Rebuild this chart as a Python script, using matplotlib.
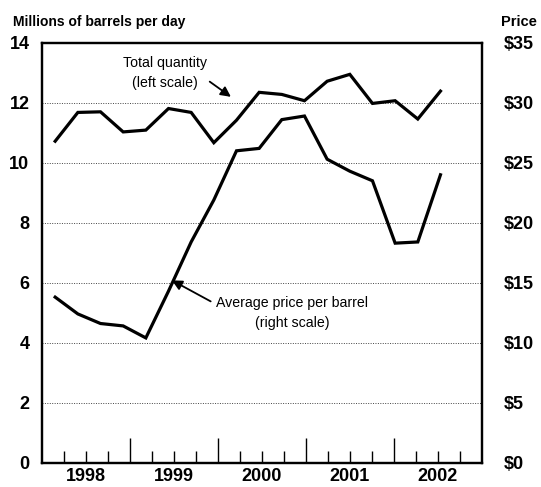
import numpy as np
import matplotlib.pyplot as plt

# quarterly data, 1998 Q1 .. 2002 Q2
quantity = [10.72, 11.68, 11.70, 11.03, 11.09, 11.81, 11.68, 10.67, 11.42,
            12.35, 12.28, 12.07, 12.72, 12.95, 11.98, 12.07, 11.46, 12.39]
price = [13.8, 12.4, 11.6, 11.4, 10.4, 14.3, 18.4, 21.9, 26.0,
         26.2, 28.6, 28.9, 25.3, 24.3, 23.5, 18.3, 18.4, 24.0]
years = [1998, 1999, 2000, 2001, 2002]
left_ticks = [0, 2, 4, 6, 8, 10, 12, 14]
right_ticks = [0, 5, 10, 15, 20, 25, 30, 35]

x = np.linspace(1998.15, 2002.53, len(quantity))

plt.rcParams['font.family'] = ['Liberation Sans', 'DejaVu Sans']

fig = plt.figure(figsize=(5.41, 4.87), dpi=100)
ax = fig.add_axes([0.0776, 0.050, 0.813, 0.862])
ax2 = ax.twinx()

ax.plot(x, quantity, color='black', lw=2.3, solid_joinstyle='miter')
ax2.plot(x, price, color='black', lw=2.3, solid_joinstyle='miter')

ax.set_xlim(1998, 2003)
ax.set_ylim(0, 14)
ax2.set_ylim(0, 35)

ax.set_yticks(left_ticks)
ax.set_yticklabels([str(v) for v in left_ticks], fontsize=13, fontweight='bold')
ax2.set_yticks(right_ticks)
ax2.set_yticklabels(['$%d' % v for v in right_ticks], fontsize=13, fontweight='bold')
ax.tick_params(axis='y', length=0, pad=9)
ax2.tick_params(axis='y', length=0, pad=16)

ax.grid(axis='y', linestyle=(0, (1, 1.5)), color='#444444', lw=0.7)
ax.set_axisbelow(True)

# year boundaries: long ticks; quarter boundaries: short ticks
ax.set_xticks([1999, 2000, 2001, 2002])
ax.set_xticklabels([])
quarters = [y + q / 4 for y in years for q in (1, 2, 3)]
ax.set_xticks(quarters, minor=True)
ax.tick_params(axis='x', which='major', direction='in', length=18, width=1.0, color='black')
ax.tick_params(axis='x', which='minor', direction='in', length=8.5, width=1.0, color='black')
for yr in years:
    ax.text(yr + 0.5, -0.012, str(yr), transform=ax.get_xaxis_transform(),
            ha='center', va='top', fontsize=13, fontweight='bold')

for a in (ax, ax2):
    for s in a.spines.values():
        s.set_linewidth(1.6)
        s.set_color('black')

fig.text(0.024, 0.955, 'Millions of barrels per day',
         fontsize=10, fontweight='bold', ha='left', va='center')
fig.text(0.993, 0.955, 'Price',
         fontsize=10.5, fontweight='bold', ha='right', va='center')

ax.annotate('Total quantity\n(left scale)', xy=(1998.0 + (231 - 42) / 88, 12.2),
            xytext=(1998.0 + (165 - 42) / 88, 13.0), ha='center', va='center',
            fontsize=10.2, linespacing=1.55,
            arrowprops=dict(arrowstyle='-|>', color='black', lw=1.3,
                            mutation_scale=15, shrinkA=22, shrinkB=0,
                            relpos=(1.0, 0.3)))
ax2.annotate('Average price per barrel\n(right scale)', xy=(1998.0 + (172 - 42) / 88, 15.2),
             xytext=(1998.0 + (292 - 42) / 88, 12.5), ha='center', va='center',
             fontsize=10.2, linespacing=1.55,
             arrowprops=dict(arrowstyle='-|>', color='black', lw=1.3,
                             mutation_scale=15, shrinkA=2, shrinkB=0,
                             relpos=(0.0, 0.75)))

fig.savefig('out.png', dpi=100)
